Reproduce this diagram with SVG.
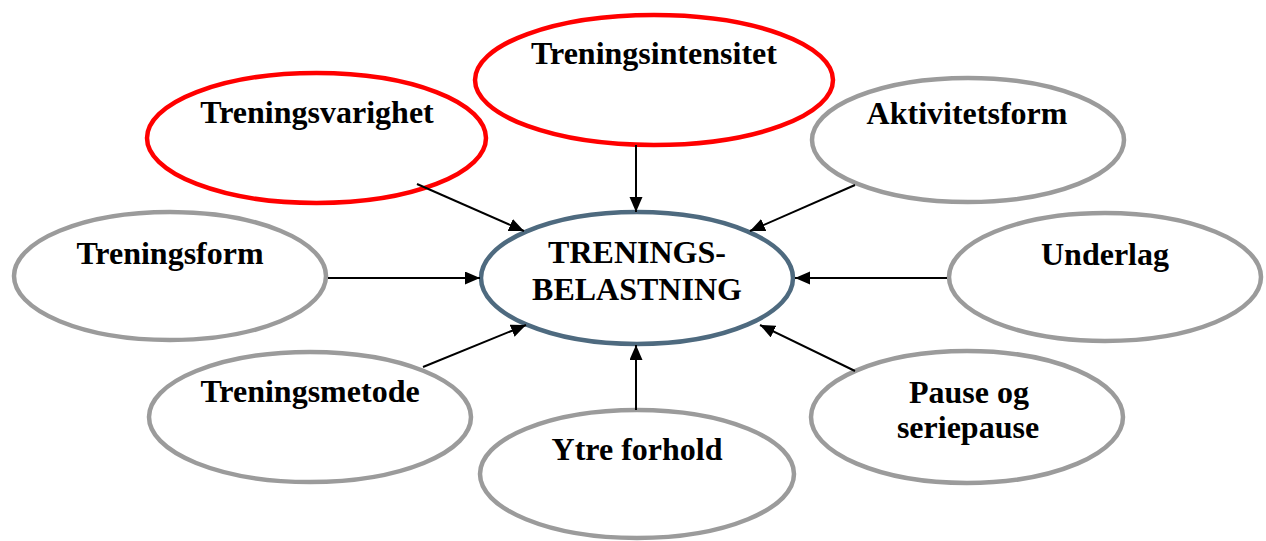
<svg xmlns="http://www.w3.org/2000/svg" width="1266" height="541" viewBox="0 0 1266 541">
<style>
.n{fill:#ffffff;stroke-width:4.5}
.red{stroke:#ff0000}
.gray{stroke:#9b9b9b}
.ctr{stroke:#4e6a7f}
text{font-family:"Liberation Serif","Times New Roman",serif;font-weight:bold;font-size:32px;fill:#000;text-anchor:middle}
.c line{stroke:#000;stroke-width:2;marker-end:url(#ah)}
</style>
<defs>
<marker id="ah" markerUnits="userSpaceOnUse" markerWidth="16" markerHeight="14" refX="15" refY="6.5" orient="auto">
<path d="M0,0 L15,6.5 L0,13 Z" fill="#000"/>
</marker>
</defs>
<rect width="1266" height="541" fill="#ffffff"/>
<g id="node-varighet"><ellipse class="n red" cx="316.5" cy="138" rx="169.5" ry="65"/><text x="317" y="123">Treningsvarighet</text></g>
<g id="node-intensitet"><ellipse class="n red" cx="654" cy="80" rx="179" ry="65"/><text x="654" y="64">Treningsintensitet</text></g>
<g id="node-aktivitetsform"><ellipse class="n gray" cx="968" cy="140" rx="156" ry="62"/><text x="967" y="124">Aktivitetsform</text></g>
<g id="node-treningsform"><ellipse class="n gray" cx="170" cy="276" rx="156" ry="64"/><text x="170" y="264">Treningsform</text></g>
<g id="node-center"><ellipse class="n ctr" cx="637" cy="278" rx="156" ry="66"/><text x="637" y="263">TRENINGS-</text><text x="637" y="300">BELASTNING</text></g>
<g id="node-underlag"><ellipse class="n gray" cx="1105" cy="277" rx="156" ry="64"/><text x="1105" y="265">Underlag</text></g>
<g id="node-metode"><ellipse class="n gray" cx="310" cy="417" rx="161" ry="65"/><text x="310" y="402">Treningsmetode</text></g>
<g id="node-ytre"><ellipse class="n gray" cx="637" cy="474" rx="157" ry="64"/><text x="637" y="460">Ytre forhold</text></g>
<g id="node-pause"><ellipse class="n gray" cx="967" cy="417" rx="156" ry="66"/><text x="969" y="403">Pause og</text><text x="968" y="438">seriepause</text></g>
<g id="connectors" class="c">
<line x1="417" y1="184" x2="524" y2="231"/>
<line x1="636" y1="145" x2="636" y2="212"/>
<line x1="855" y1="185" x2="750" y2="231"/>
<line x1="328" y1="278" x2="480" y2="278"/>
<line x1="947" y1="278" x2="795" y2="278"/>
<line x1="423" y1="367" x2="526" y2="325"/>
<line x1="636" y1="410" x2="636" y2="345"/>
<line x1="855" y1="371" x2="760" y2="325"/>
</g>
</svg>
